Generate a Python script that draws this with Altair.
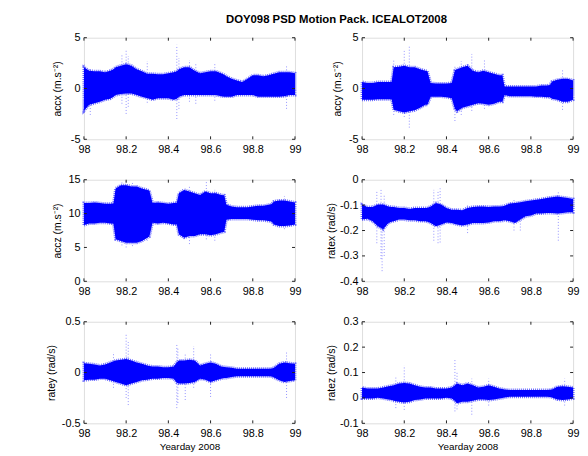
import altair as alt
import pandas as pd

TITLE = "DOY098 PSD Motion Pack. ICEALOT2008"
XLABEL = "Yearday 2008"
x_ticks = [98, 98.2, 98.4, 98.6, 98.8, 99]

t = [98.0, 98.025, 98.05, 98.075, 98.1, 98.125, 98.14, 98.15, 98.175, 98.2,
     98.225, 98.25, 98.275, 98.3, 98.31, 98.325, 98.35, 98.375, 98.4, 98.425,
     98.44, 98.45, 98.475, 98.5, 98.525, 98.55, 98.575, 98.6, 98.625, 98.65,
     98.665, 98.675, 98.7, 98.725, 98.75, 98.775, 98.8, 98.825, 98.85, 98.875,
     98.89, 98.9, 98.925, 98.95, 98.975, 99.0]

accx_hi = [2.1, 1.75, 1.7, 1.7, 1.6, 1.75, 1.9, 2.1, 2.25, 2.4,
           2.25, 1.9, 1.7, 1.45, 1.45, 1.45, 1.4, 1.4, 1.5, 1.6,
           1.7, 1.9, 2.1, 2.1, 1.75, 1.5, 1.6, 1.7, 1.7, 1.5,
           1.35, 1.2, 0.95, 0.8, 0.65, 0.95, 1.3, 1.3, 1.2, 1.3,
           1.4, 1.45, 1.6, 1.6, 1.6, 1.5]
accx_lo = [-2.2, -1.6, -1.45, -1.3, -1.1, -1.0, -0.8, -0.65, -0.55, -0.5,
           -0.5, -0.65, -0.8, -0.95, -1.0, -1.1, -0.95, -0.95, -0.95, -1.1,
           -1.0, -0.8, -0.65, -0.65, -0.65, -0.65, -0.65, -0.65, -0.65, -0.75,
           -0.8, -0.8, -0.8, -0.65, -0.65, -0.65, -0.65, -0.8, -0.8, -0.8,
           -0.8, -0.8, -0.8, -0.75, -0.65, -0.65]
accx_sx = [98.002, 98.03, 98.18, 98.2, 98.21, 98.3, 98.44, 98.45, 98.5, 98.53, 98.62, 98.96]
accx_slo = [-2.4, -2.6, -1.5, -2.5, -1.8, -1.4, -3.0, -2.0, -1.3, -1.5, -1.2, -2.0]
accx_shi = [2.4, 1.9, 3.4, 3.85, 3.2, 2.7, 4.3, 3.0, 2.8, 2.5, 2.4, 2.2]

accy_hi = [0.65, 0.55, 0.55, 0.65, 0.65, 0.65, 0.65, 2.1, 2.15, 2.25,
           2.1, 2.1, 1.9, 1.75, 1.7, 0.55, 0.5, 0.5, 0.5, 0.55,
           1.8, 1.9, 2.1, 2.25, 1.75, 1.6, 1.75, 1.6, 1.45, 1.3,
           1.3, 0.2, 0.2, 0.2, 0.2, 0.2, 0.2, 0.2, 0.3, 0.3,
           0.35, 0.7, 0.85, 0.95, 0.95, 0.8]
accy_lo = [-1.1, -1.1, -1.1, -1.05, -1.05, -1.05, -1.05, -2.1, -2.25, -2.35,
           -2.25, -2.15, -1.9, -1.6, -1.6, -0.8, -0.8, -0.8, -0.85, -0.95,
           -2.0, -2.25, -1.9, -1.75, -1.6, -1.45, -1.5, -1.6, -1.5, -1.3,
           -1.3, -0.65, -0.75, -0.75, -0.75, -0.75, -0.75, -0.8, -0.8, -0.85,
           -0.85, -1.0, -1.1, -1.3, -1.3, -1.1]
accy_sx = [98.15, 98.2, 98.224, 98.44, 98.47, 98.52, 98.58, 98.95]
accy_slo = [-2.6, -2.8, -3.85, -3.2, -2.6, -2.2, -2.0, -2.1]
accy_shi = [2.9, 3.7, 4.2, 2.3, 2.7, 3.4, 2.9, 1.9]

accz_hi = [11.55, 11.55, 11.65, 11.55, 11.45, 11.45, 11.5, 13.7, 14.2, 14.2,
           14.0, 14.0, 13.7, 13.5, 13.4, 11.55, 11.65, 11.55, 11.45, 11.55,
           11.6, 13.0, 13.5, 13.25, 13.0, 12.75, 13.25, 13.0, 13.0, 12.75,
           12.7, 11.3, 11.05, 10.95, 10.95, 10.95, 11.05, 11.15, 11.15, 11.3,
           11.4, 11.8, 11.95, 11.95, 11.8, 11.65]
accz_lo = [8.3, 8.55, 8.55, 8.65, 8.65, 8.55, 8.5, 6.2, 5.95, 5.7,
           5.7, 5.7, 5.95, 6.45, 6.6, 8.65, 8.55, 8.65, 8.55, 8.4,
           8.4, 6.95, 6.45, 6.7, 6.7, 6.95, 6.95, 6.8, 6.95, 7.2,
           7.3, 9.1, 9.2, 9.2, 9.2, 9.2, 9.1, 9.0, 9.0, 8.9,
           8.8, 8.4, 8.15, 8.15, 8.25, 8.4]
accz_sx = [98.18, 98.2, 98.23, 98.3, 98.5, 98.58, 98.62, 98.95]
accz_slo = [5.3, 5.0, 5.2, 6.0, 5.5, 6.2, 6.0, 7.7]
accz_shi = [14.6, 14.8, 14.7, 13.8, 14.0, 14.7, 13.5, 12.6]

ratex_hi = [-0.098, -0.107, -0.107, -0.098, -0.098, -0.105, -0.107, -0.107, -0.111, -0.111,
            -0.115, -0.111, -0.111, -0.111, -0.11, -0.105, -0.092, -0.098, -0.111, -0.118,
            -0.118, -0.118, -0.12, -0.111, -0.107, -0.105, -0.105, -0.107, -0.105, -0.105,
            -0.104, -0.102, -0.094, -0.092, -0.089, -0.085, -0.082, -0.079, -0.076, -0.072,
            -0.07, -0.069, -0.066, -0.069, -0.072, -0.076]
ratex_lo = [-0.157, -0.154, -0.163, -0.183, -0.195, -0.17, -0.165, -0.163, -0.157, -0.157,
            -0.16, -0.16, -0.163, -0.163, -0.165, -0.17, -0.183, -0.176, -0.168, -0.17,
            -0.174, -0.176, -0.18, -0.176, -0.17, -0.17, -0.17, -0.168, -0.163, -0.163,
            -0.162, -0.16, -0.163, -0.17, -0.157, -0.144, -0.141, -0.133, -0.133, -0.131,
            -0.131, -0.131, -0.133, -0.131, -0.128, -0.128]
ratex_sx = [98.07, 98.09, 98.095, 98.105, 98.34, 98.36, 98.37, 98.5, 98.72, 98.75, 98.93]
ratex_slo = [-0.25, -0.312, -0.36, -0.3, -0.24, -0.25, -0.247, -0.21, -0.2, -0.2, -0.24]
ratex_shi = [-0.047, -0.04, -0.1, -0.06, -0.04, -0.04, -0.034, -0.1, -0.08, -0.085, -0.047]

ratey_hi = [0.092, 0.086, 0.08, 0.07, 0.08, 0.1, 0.11, 0.118, 0.125, 0.134,
            0.118, 0.1, 0.086, 0.07, 0.065, 0.06, 0.06, 0.053, 0.053, 0.06,
            0.1, 0.118, 0.118, 0.125, 0.118, 0.07, 0.086, 0.1, 0.086, 0.06,
            0.055, 0.053, 0.047, 0.037, 0.037, 0.037, 0.037, 0.037, 0.037, 0.037,
            0.04, 0.047, 0.086, 0.1, 0.092, 0.086]
ratey_lo = [-0.076, -0.07, -0.07, -0.06, -0.06, -0.076, -0.085, -0.092, -0.108, -0.125,
            -0.108, -0.092, -0.076, -0.07, -0.065, -0.06, -0.06, -0.053, -0.053, -0.06,
            -0.1, -0.108, -0.108, -0.102, -0.092, -0.06, -0.07, -0.092, -0.076, -0.06,
            -0.055, -0.053, -0.044, -0.037, -0.037, -0.037, -0.037, -0.037, -0.037, -0.037,
            -0.04, -0.05, -0.076, -0.092, -0.083, -0.076]
ratey_sx = [98.14, 98.2, 98.21, 98.44, 98.445, 98.48, 98.52, 98.6, 98.96]
ratey_slo = [-0.15, -0.25, -0.32, -0.35, -0.3, -0.27, -0.15, -0.24, -0.25]
ratey_shi = [0.2, 0.377, 0.3, 0.286, 0.25, 0.18, 0.26, 0.18, 0.21]

ratez_hi = [0.041, 0.037, 0.037, 0.037, 0.041, 0.046, 0.048, 0.05, 0.057, 0.059,
            0.057, 0.05, 0.044, 0.041, 0.041, 0.041, 0.037, 0.037, 0.037, 0.041,
            0.05, 0.057, 0.05, 0.057, 0.05, 0.041, 0.044, 0.05, 0.044, 0.037,
            0.035, 0.033, 0.031, 0.031, 0.031, 0.031, 0.031, 0.031, 0.031, 0.031,
            0.032, 0.033, 0.044, 0.046, 0.044, 0.041]
ratez_lo = [-0.002, -0.002, -0.002, 0.001, -0.002, -0.006, -0.008, -0.011, -0.015, -0.018,
            -0.015, -0.008, -0.006, -0.002, -0.002, -0.002, -0.002, -0.002, 0.001, -0.002,
            -0.012, -0.021, -0.015, -0.015, -0.011, -0.006, -0.006, -0.008, -0.006, -0.002,
            0.0, 0.002, 0.005, 0.005, 0.005, 0.005, 0.005, 0.005, 0.005, 0.005,
            0.004, 0.002, -0.006, -0.008, -0.006, -0.002]
ratez_sx = [98.16, 98.2, 98.44, 98.45, 98.52, 98.6, 98.96]
ratez_slo = [-0.04, -0.047, -0.053, -0.045, -0.066, -0.03, -0.03]
ratez_shi = [0.08, 0.128, 0.154, 0.1, 0.076, 0.076, 0.076]

W, H = 214, 103
BLUE = "#0000ff"
FONT = "Liberation Sans"


def panel(hi, lo, sx, slo, shi, ydom, yticks, ytitle, xtitle, tpad):
    band_df = pd.DataFrame({"t": t, "hi": hi, "lo": lo})
    spike_df = pd.DataFrame({"t": sx, "lo": slo, "hi": shi})
    xs = alt.Scale(domain=[98, 99], nice=False, zero=False)
    ys = alt.Scale(domain=ydom, nice=False, zero=False)
    xax = alt.Axis(values=x_ticks, labelExpr="'' + datum.value", ticks=False,
                   domain=False, grid=False, labelFlush=False, labelPadding=4,
                   titlePadding=4, labelFontSize=11, titleFontSize=10,
                   titleFontWeight="normal")
    yax = alt.Axis(values=yticks, labelExpr="'' + datum.value", ticks=False,
                   domain=False, grid=False, labelFlush=False, labelPadding=4,
                   titlePadding=tpad, labelFontSize=11, titleFontSize=10.5,
                   titleFontWeight="normal")

    def X(f):
        if xtitle:
            return alt.X(f, type="quantitative", scale=xs, axis=xax, title=xtitle)
        return alt.X(f, type="quantitative", scale=xs, axis=xax, title=None)

    def Y(f):
        return alt.Y(f, type="quantitative", scale=ys, axis=yax, title=ytitle)

    fringe = alt.Chart(band_df).mark_area(
        color="#ffffff", fillOpacity=0, stroke="#4a4aff", strokeWidth=3,
        strokeDash=[1, 1], opacity=0.8
    ).encode(x=X("t"), y=Y("lo"), y2="hi")
    band = alt.Chart(band_df).mark_area(
        color=BLUE, opacity=1
    ).encode(x=X("t"), y=Y("lo"), y2="hi")
    spikes = alt.Chart(spike_df).mark_rule(
        color="#3a3aff", strokeDash=[1, 2], strokeWidth=1, opacity=0.55
    ).encode(x=X("t"), y=Y("lo"), y2="hi")
    xt = alt.Chart(pd.DataFrame({"v": x_ticks}))
    yt = alt.Chart(pd.DataFrame({"v": yticks}))
    tick_style = dict(color="#222222", strokeWidth=1)
    xt_top = xt.mark_rule(**tick_style).encode(x=X("v"), y=alt.value(0), y2=alt.value(3))
    xt_bot = xt.mark_rule(**tick_style).encode(x=X("v"), y=alt.value(H), y2=alt.value(H - 3))
    yt_l = yt.mark_rule(**tick_style).encode(y=Y("v"), x=alt.value(0), x2=alt.value(3))
    yt_r = yt.mark_rule(**tick_style).encode(y=Y("v"), x=alt.value(W), x2=alt.value(W - 3))
    return alt.layer(spikes, fringe, band, xt_top, xt_bot, yt_l, yt_r).properties(width=W, height=H)


p1 = panel(accx_hi, accx_lo, accx_sx, accx_slo, accx_shi, [-5, 5], [-5, 0, 5],
           "accx (m.s⁻²)", "", 8)
p2 = panel(accy_hi, accy_lo, accy_sx, accy_slo, accy_shi, [-5, 5], [-5, 0, 5],
           "accy (m.s⁻²)", "", 6)
p3 = panel(accz_hi, accz_lo, accz_sx, accz_slo, accz_shi, [0, 15], [0, 5, 10, 15],
           "accz (m.s⁻²)", "", 6)
p4 = panel(ratex_hi, ratex_lo, ratex_sx, ratex_slo, ratex_shi, [-0.4, 0],
           [-0.4, -0.3, -0.2, -0.1, 0], "ratex (rad/s)", "", 3)
p5 = panel(ratey_hi, ratey_lo, ratey_sx, ratey_slo, ratey_shi, [-0.5, 0.5],
           [-0.5, 0, 0.5], "ratey (rad/s)", XLABEL, 5)
p6 = panel(ratez_hi, ratez_lo, ratez_sx, ratez_slo, ratez_shi, [-0.1, 0.3],
           [-0.1, 0, 0.1, 0.2, 0.3], "ratez (rad/s)", XLABEL, 3)

chart = alt.concat(
    p1, p2, p3, p4, p5, p6, columns=2,
    spacing={"row": 41, "column": 68}, bounds="flush"
).properties(
    title=alt.TitleParams(TITLE, font=FONT, fontSize=11.5, fontWeight="bold",
                          anchor="middle", color="black", offset=6, dx=24),
    padding={"left": 38, "top": 3, "right": 0, "bottom": 0},
).configure_view(
    stroke="#000000", strokeWidth=1
).configure_axis(
    labelFont=FONT, titleFont=FONT, labelColor="black", titleColor="black",
    titleFontWeight="normal"
).configure(background="white")

chart.save("out.html", embed_options={"renderer": "svg", "actions": False})
